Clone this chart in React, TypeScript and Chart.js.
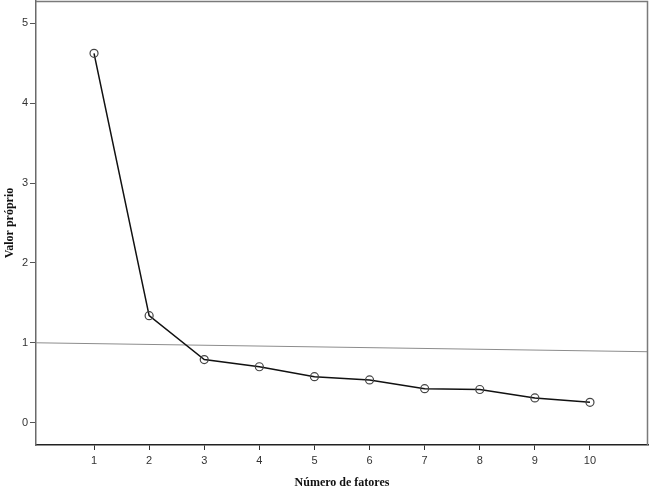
import React, { useEffect, useRef } from "react";
import { Chart, registerables } from "chart.js";

Chart.register(...registerables);

const factors = [1, 2, 3, 4, 5, 6, 7, 8, 9, 10];
const eigenvalues = [4.625, 1.34, 0.79, 0.7, 0.575, 0.535, 0.425, 0.415, 0.31, 0.255];
const refLineX = [-0.053, 11.053];
const refLineY = [1.0, 0.888];
const xTicks = [1, 2, 3, 4, 5, 6, 7, 8, 9, 10];
const yTicks = [0, 1, 2, 3, 4, 5];

const framePlugin = {
  id: "frame",
  afterDraw(chart: any) {
    const { ctx, chartArea } = chart;
    ctx.save();
    ctx.strokeStyle = "#7a7a7a";
    ctx.lineWidth = 1.5;
    ctx.beginPath();
    ctx.moveTo(chartArea.left, chartArea.top + 0.5);
    ctx.lineTo(chartArea.right - 0.5, chartArea.top + 0.5);
    ctx.lineTo(chartArea.right - 0.5, chartArea.bottom);
    ctx.stroke();
    ctx.restore();
  },
};

const zeroPad = (axis: any) => {
  axis.paddingTop = 0;
  axis.paddingBottom = 0;
  axis.paddingLeft = 0;
  axis.paddingRight = 0;
};

export default function App() {
  const ref = useRef<HTMLCanvasElement>(null);
  useEffect(() => {
    document.body.style.margin = "0";
    const chart = new Chart(ref.current as HTMLCanvasElement, {
      type: "scatter",
      data: {
        datasets: [
          {
            data: refLineX.map((x, i) => ({ x, y: refLineY[i] })),
            showLine: true,
            borderColor: "#8c8c8c",
            borderWidth: 1,
            pointRadius: 0,
            order: 2,
          },
          {
            data: factors.map((x, i) => ({ x, y: eigenvalues[i] })),
            showLine: true,
            borderColor: "#111111",
            borderWidth: 1.5,
            pointRadius: 4,
            pointBorderColor: "#444444",
            pointBorderWidth: 1.2,
            pointBackgroundColor: "rgba(255,255,255,0)",
            order: 1,
          },
        ],
      },
      options: {
        animation: false,
        responsive: false,
        layout: { autoPadding: false, padding: { top: 1, right: 2, left: 0, bottom: 0 } },
        plugins: { legend: { display: false }, tooltip: { enabled: false } },
        scales: {
          x: {
            type: "linear",
            min: -0.053,
            max: 11.053,
            afterBuildTicks: (axis: any) => {
              axis.ticks = xTicks.map((v) => ({ value: v }));
            },
            afterFit: (axis: any) => {
              axis.height = 43;
              zeroPad(axis);
            },
            grid: {
              display: true,
              drawOnChartArea: false,
              tickLength: 5,
              color: "#333333",
            },
            border: { display: true, color: "#222222", width: 1.5 },
            ticks: {
              color: "#333333",
              padding: 4,
              font: { family: "Arial, 'Liberation Sans', sans-serif", size: 11 },
            },
            title: {
              display: true,
              text: "Número de fatores",
              color: "#111111",
              font: { family: "'Liberation Serif', 'Times New Roman', serif", size: 12, weight: "bold" },
              padding: { top: 0, bottom: -2 },
            },
          },
          y: {
            type: "linear",
            min: -0.28,
            max: 5.28,
            afterBuildTicks: (axis: any) => {
              axis.ticks = yTicks.map((v) => ({ value: v }));
            },
            afterFit: (axis: any) => {
              axis.width = 36;
              zeroPad(axis);
            },
            grid: {
              display: true,
              drawOnChartArea: false,
              tickLength: 6,
              color: "#555555",
            },
            border: { display: true, color: "#6a6a6a", width: 1.5 },
            ticks: {
              color: "#333333",
              padding: 2,
              font: { family: "Arial, 'Liberation Sans', sans-serif", size: 11 },
            },
            title: {
              display: true,
              text: "Valor próprio",
              color: "#111111",
              font: { family: "'Liberation Serif', 'Times New Roman', serif", size: 12, weight: "bold" },
              padding: { top: 3, bottom: 0 },
            },
          },
        },
      },
      plugins: [framePlugin],
    } as any);
    return () => chart.destroy();
  }, []);
  return (
    <div style={{ position: "absolute", left: 0, top: 0, width: 650, height: 488, background: "#ffffff" }}>
      <canvas ref={ref} width={650} height={488} style={{ width: 650, height: 488 }} />
    </div>
  );
}
